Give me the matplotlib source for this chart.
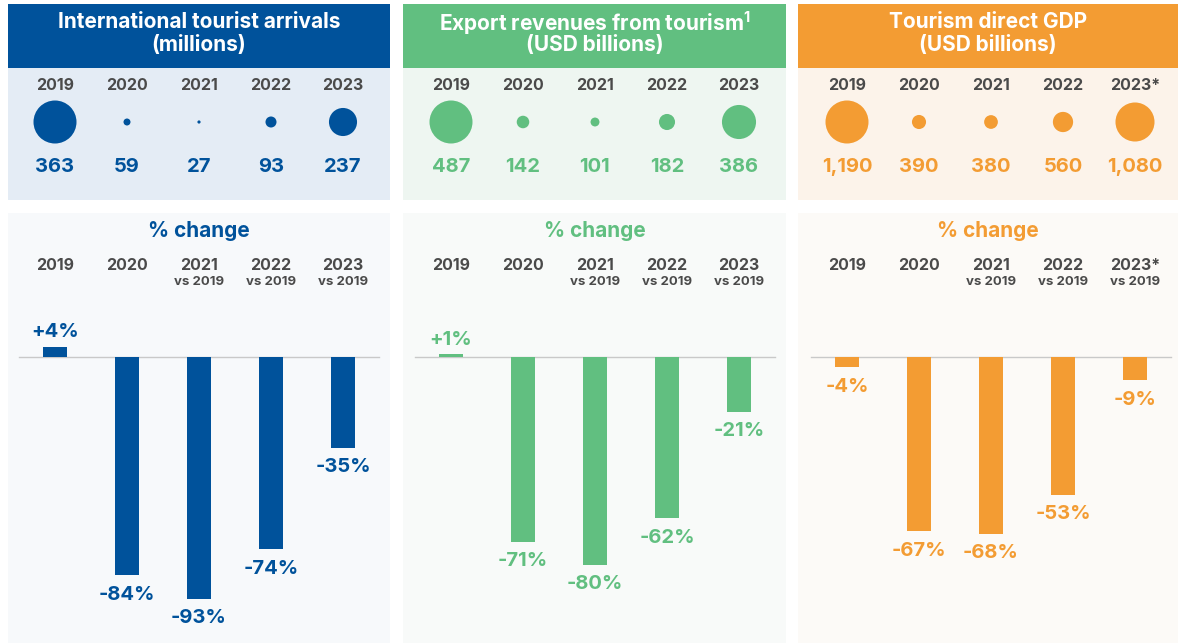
import matplotlib.pyplot as plt
from matplotlib.patches import Rectangle

plt.rcParams["mathtext.fontset"] = "custom"
plt.rcParams["mathtext.rm"] = "Inter"
plt.rcParams["mathtext.bf"] = "Inter:bold"

# ------------------------
# Data
# ------------------------
years = ["2019", "2020", "2021", "2022", "2023"]
years_gdp = ["2019", "2020", "2021", "2022", "2023*"]
vs_labels = ["", "", "vs 2019", "vs 2019", "vs 2019"]

titles = ["International tourist arrivals\n(millions)",
          "Export revenues from tourism$^{\\mathbf{1}}$\n(USD billions)",
          "Tourism direct GDP\n(USD billions)"]

arrivals = [363, 59, 27, 93, 237]
arrivals_labels = ["363", "59", "27", "93", "237"]
arrivals_pct = [4, -84, -93, -74, -35]

exports = [487, 142, 101, 182, 386]
exports_labels = ["487", "142", "101", "182", "386"]
exports_pct = [1, -71, -80, -62, -21]

gdp = [1190, 390, 380, 560, 1080]
gdp_labels = ["1,190", "390", "380", "560", "1,080"]
gdp_pct = [-4, -67, -68, -53, -9]

# ------------------------
# Style / layout (pixels)
# ------------------------
W, H = 1179, 643
FONT = "Inter"
GREY = "#4a4a4a"

panels = [
    dict(left=8, right=390, col0=55, main="#00529b", band="#e4ecf5", bg="#f7f9fb",
         x=years, vals=arrivals, lbls=arrivals_labels, pct=arrivals_pct),
    dict(left=403, right=786, col0=451, main="#61bf80", band="#eef6f1", bg="#f8faf9",
         x=years, vals=exports, lbls=exports_labels, pct=exports_pct),
    dict(left=798, right=1178, col0=847, main="#f39c33", band="#fcf3ea", bg="#fcfaf7",
         x=years_gdp, vals=gdp, lbls=gdp_labels, pct=gdp_pct),
]
step = 72          # px between columns
max_diam = 43      # px, biggest bubble


def px_axes(fig, x0, y0, x1, y1):
    ax = fig.add_axes([x0 / W, 1 - y1 / H, (x1 - x0) / W, (y1 - y0) / H])
    ax.patch.set_alpha(0)
    ax.axis("off")
    return ax


fig = plt.figure(figsize=(W / 100, H / 100), dpi=100)
fig.patch.set_facecolor("white")
bg = px_axes(fig, 0, 0, W, H)
bg.set_xlim(0, W)
bg.set_ylim(H, 0)

for k, p in enumerate(panels):
    L, R = p["left"], p["right"]
    cx = (L + R) / 2
    # backgrounds
    bg.add_patch(Rectangle((L, 4), R - L, 64, color=p["main"], lw=0))
    bg.add_patch(Rectangle((L, 68), R - L, 132, color=p["band"], lw=0))
    bg.add_patch(Rectangle((L, 213), R - L, 430, color=p["bg"], lw=0))
    line1, line2 = titles[k].split("\n")
    bg.text(cx, 20, line1, ha="center", va="center_baseline", color="white",
            fontsize=15, fontweight="bold", family=FONT)
    bg.text(cx, 45, line2, ha="center", va="center", color="white",
            fontsize=15, fontweight="bold", family=FONT)
    bg.text(cx, 231, "% change", ha="center", va="center", color=p["main"],
            fontsize=15, fontweight="bold", family=FONT)

    xlim = (-(p["col0"] - L) / step, (R - p["col0"]) / step)
    idx = list(range(len(p["x"])))

    # --- bubbles ---
    ax1 = px_axes(fig, L, 68, R, 200)
    ax1.set_xlim(*xlim)
    ax1.set_ylim(200, 68)
    vmax = max(p["vals"])
    sizes = [(max_diam * 0.72 * v / vmax) ** 2 for v in p["vals"]]
    ax1.scatter(idx, [122] * len(idx), s=sizes, color=p["main"], lw=0)
    for i, (yr, lb) in enumerate(zip(p["x"], p["lbls"])):
        ax1.text(i, 85, yr, ha="center", va="center", color=GREY,
                 fontsize=11.5, fontweight="bold", family=FONT)
        ax1.text(i, 167.5, lb, ha="center", va="center", color=p["main"],
                 fontsize=14.5, fontweight="bold", family=FONT)

    # --- % change bars ---
    ax2 = px_axes(fig, L, 213, R, 643)
    ax2.set_xlim(*xlim)
    ppu = 2.6  # px per percentage point
    ax2.set_ylim(-(643 - 357) / ppu, (357 - 213) / ppu)
    ax2.plot([-0.5, len(idx) - 0.5], [0, 0], color="#c9c9c9", lw=1, zorder=1)
    ax2.bar(idx, p["pct"], width=0.32, color=p["main"], zorder=2)
    for i, (yr, vs, v) in enumerate(zip(p["x"], vs_labels, p["pct"])):
        ax2.text(i, (357 - 266) / ppu, yr, ha="center", va="center", color=GREY,
                 fontsize=11.5, fontweight="bold", family=FONT)
        if vs:
            ax2.text(i, (357 - 282) / ppu, vs, ha="center", va="center", color=GREY,
                     fontsize=9.5, fontweight="bold", family=FONT)
        txt = f"+{v}%" if v > 0 else f"-{abs(v)}%"
        off = 10.5 if v > 0 else -14
        ax2.annotate(txt, (i, v), xytext=(0, off), textcoords="offset points",
                     ha="center", va="center", color=p["main"],
                     fontsize=14.5, fontweight="bold", family=FONT)

plt.savefig("out.png", dpi=100)
